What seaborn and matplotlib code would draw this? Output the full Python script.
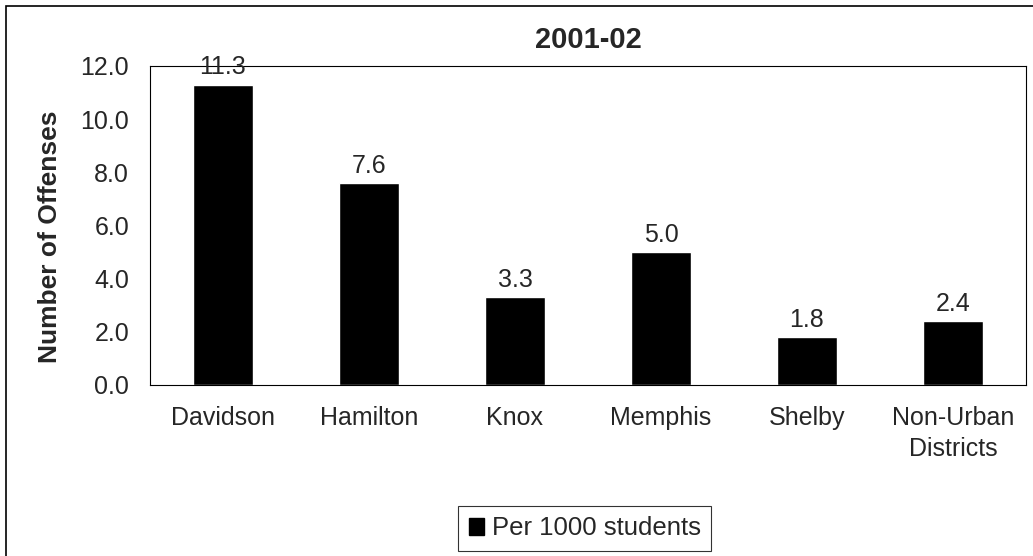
import matplotlib
matplotlib.use("Agg")
import matplotlib.pyplot as plt
import matplotlib.patches as mpatches
from matplotlib.ticker import FixedLocator, FormatStrFormatter
import pandas as pd
import seaborn as sns

districts = ["Davidson", "Hamilton", "Knox", "Memphis", "Shelby", "Non-Urban\nDistricts"]
offenses = [11.3, 7.6, 3.3, 5.0, 1.8, 2.4]
series_name = "Per 1000 students"
title = "2001-02"

df = pd.DataFrame({"district": districts, "offenses": offenses})

sns.set_style("white")
plt.rcParams["font.family"] = ["Liberation Sans", "DejaVu Sans"]

fig = plt.figure(figsize=(10.33, 5.56), dpi=100)
ax = fig.add_axes([0.1452, 0.3076, 0.848, 0.5737])

sns.barplot(data=df, x="district", y="offenses", color="black", width=0.41,
            saturation=1, ax=ax, label=series_name)

for i, v in enumerate(offenses):
    ax.text(i, v + 0.2, f"{v:.1f}", ha="center", va="bottom", fontsize=18)

ax.set_ylim(0, 12)
ax.set_xlim(-0.5, len(districts) - 0.5)
ax.set_yticks([0, 2, 4, 6, 8, 10, 12])
ax.yaxis.set_major_formatter(FormatStrFormatter("%.1f"))
ax.xaxis.set_minor_locator(FixedLocator([i - 0.5 for i in range(len(districts) + 1)]))
ax.tick_params(axis="x", which="major", length=0, pad=15, labelsize=18)
ax.tick_params(axis="x", which="minor", length=5, width=1, color="black", direction="out")
ax.tick_params(axis="y", length=5, width=1, color="black", direction="out", labelsize=18, pad=10)
for lbl in ax.get_xticklabels():
    lbl.set_linespacing(1.4)
ax.set_xlabel("")
ax.set_ylabel("Number of Offenses", fontsize=19, fontweight="bold")
ax.yaxis.set_label_coords(-0.1, 0.465)
ax.set_title(title, fontsize=21, fontweight="bold", pad=13)
for s in ax.spines.values():
    s.set_visible(True)
    s.set_color("black")
    s.set_linewidth(0.8)

handle = mpatches.Patch(color="black", label=series_name)
leg = ax.legend(handles=[handle], loc="center", bbox_to_anchor=(0.566, 0.0495),
                bbox_transform=fig.transFigure, frameon=True, fancybox=False,
                edgecolor="black", fontsize=18.5, handlelength=0.6, handleheight=0.6,
                handletextpad=0.3, borderpad=0.4, borderaxespad=0)
leg.get_frame().set_linewidth(0.8)

# outer chart-area frame (only left/top edges fall inside the image)
fig.patches.append(mpatches.Rectangle((0.0055, -0.1), 1.2, 1.09, transform=fig.transFigure,
                                      fill=False, edgecolor="black", linewidth=1.2))

fig.savefig("out.png", dpi=100)
